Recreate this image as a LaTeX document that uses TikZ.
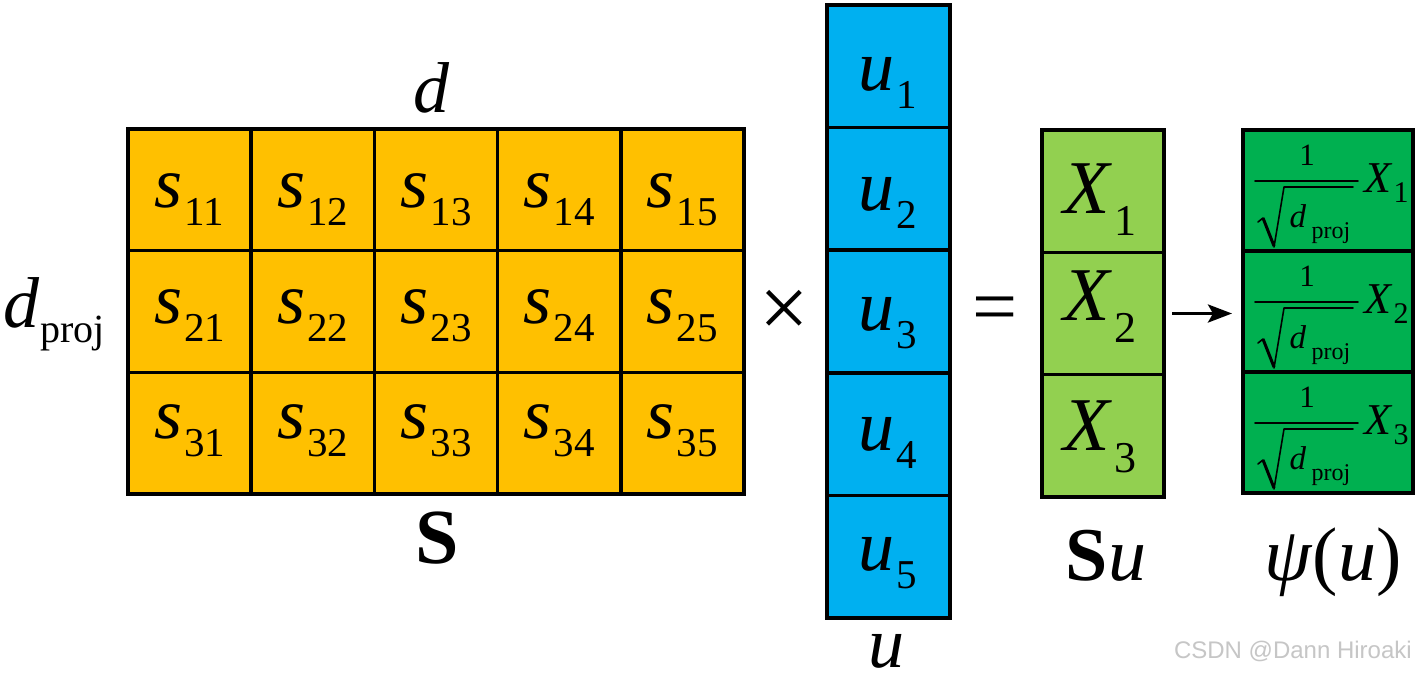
\documentclass[tikz,border=0pt]{standalone}
\usepackage{fontspec}
\setmainfont{Liberation Serif}
\newfontfamily\wmfont{Liberation Sans}
\usetikzlibrary{arrows.meta}
\definecolor{orS}{HTML}{FFC000}
\definecolor{blU}{HTML}{00B0F0}
\definecolor{lgX}{HTML}{92D050}
\definecolor{dgP}{HTML}{00B050}
\newcommand\fmain{\fontsize{72}{80}\selectfont}
\newcommand\fsb{\fontsize{41}{45}\selectfont}
\newcommand\vsub[2]{\textit{#1}\kern2pt\raisebox{-18pt}{\fsb #2}}
\begin{document}
\begin{tikzpicture}[x=1pt,y=-1pt,
  cell/.style={draw=black, line width=3.5pt, inner sep=0pt, outer sep=0pt},
  txt/.style={inner sep=0pt, anchor=base, font=\fmain},
  thin/.style={line width=1.6pt, line cap=round, line join=round}]
\useasboundingbox (0,0) rectangle (1418,678);
\fill[white] (0,0) rectangle (1418,678);
% S matrix
\foreach \i in {1,2,3}{
  \foreach \j in {1,...,5}{
    \node[cell, fill=orS, minimum width=123.2pt, minimum height=121.7pt] (s\i\j)
      at ({128+123.2*(\j-0.5)},{129+121.67*(\i-0.5)}) {};
  }
}
\foreach \i/\b in {1/207,2/323,3/438}{
  \foreach \j in {1,...,5}{
    \node[txt] (ls\i\j) at ({128+123.2*(\j-0.5)},\b) {\vsub{s}{\i\j}};
  }
}
% u vector
\foreach \k in {1,...,5}{
  \node[cell, fill=blU, minimum width=123pt, minimum height=122.6pt] (u\k)
    at (888.5,{66.3+122.6*(\k-1)}) {};
  \node[txt] (lu\k) at (888,{90+120*(\k-1)}) {\vsub{u}{\k}};
}
% Su vector
\foreach \k/\b in {1/213,2/320,3/450}{
  \node[cell, fill=lgX, minimum width=122pt, minimum height=122.3pt] (x\k)
    at (1103,{191.2+122.3*(\k-1)}) {};
  \node[txt, font=\fontsize{76}{80}\selectfont] (lx\k) at (1100,\b) {\textit{X}\kern2pt\raisebox{-22pt}{\fontsize{44}{48}\selectfont\k}};
}
% psi vector
\foreach \k/\T in {1/130,2/251,3/372}{
  \node[cell, fill=dgP, minimum width=170pt, minimum height=121pt] (p\k)
    at (1328,{\T+60.5}) {};
  \node[inner sep=0pt, anchor=base, font=\fontsize{31}{34}\selectfont] (one\k) at (1307,{\T+35}) {1};
  \draw[thin] (1255,{\T+51}) -- (1358,{\T+51});
  \draw[thin] (1258,{\T+92}) -- (1263,{\T+88});
  \draw[line width=3pt] (1263,{\T+88}) -- (1274,{\T+116});
  \draw[thin] (1274,{\T+117}) -- (1284,{\T+57}) -- (1353,{\T+57});
  \node[inner sep=0pt, anchor=base, font=\fontsize{33}{36}\selectfont] (dd\k) at (1298,{\T+97}) {\textit{d}};
  \node[inner sep=0pt, anchor=base, font=\fontsize{24}{27}\selectfont] (pj\k) at (1331,{\T+108}) {proj};
  \node[inner sep=0pt, anchor=base west, font=\fontsize{44}{46}\selectfont] (px\k) at (1364,{\T+62}) {\textit{X}\kern1pt\raisebox{-10pt}{\fontsize{30}{32}\selectfont\k}};
}
% labels
\node[txt] (dlab) at (432,112) {\textit{d}};
\node[txt, anchor=base west] (dproj) at (3,327) {\textit{d}\kern1pt\raisebox{-15pt}{\fontsize{40}{44}\selectfont proj}};
\node[txt, font=\fontsize{78}{82}\selectfont] (slab) at (437,563) {\textbf{S}};
\node[inner sep=0pt, font=\fontsize{88}{90}\selectfont] (times) at (784,314) {×};
\node[inner sep=0pt, font=\fontsize{80}{84}\selectfont] (eq) at (995,315) {=};
\node[txt] (ulab) at (886,667) {\textit{u}};
\node[txt, font=\fontsize{76}{80}\selectfont] (sulab) at (1106,580) {\textbf{S}\textit{u}};
\node[txt, font=\fontsize{76}{80}\selectfont] (psilab) at (1333,580) {\textit{ψ}(\textit{u})};
% arrow
\draw[line width=3.5pt, -{Stealth[length=24pt,width=18pt,inset=5pt]}, shorten <=8pt, shorten >=11pt]
  (x2.east) -- (x2.east -| p2.west);
% watermark
\node[anchor=base east, inner sep=0pt, font=\wmfont\fontsize{24}{26}\selectfont, text=gray!45] (wm) at (1412,658) {CSDN @Dann Hiroaki};
\end{tikzpicture}
\end{document}
